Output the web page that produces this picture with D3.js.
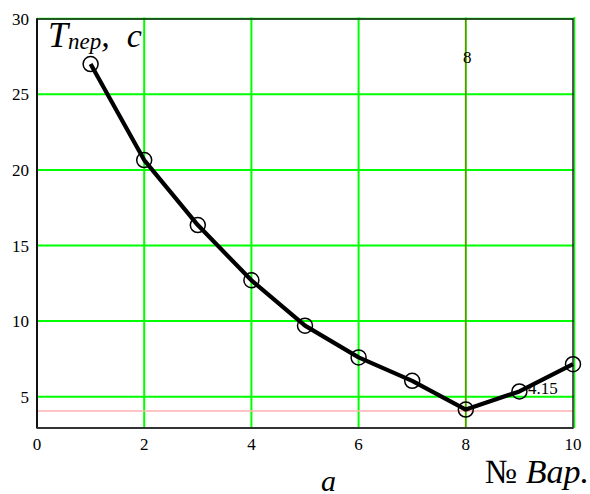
<!DOCTYPE html>
<html><head><meta charset="utf-8">
<script src="https://cdn.jsdelivr.net/npm/d3@7"></script>
<style>body{margin:0;background:#fff}svg{display:block}</style>
</head><body>
<script>
const variants = [1,2,3,4,5,6,7,8,9,10];
const periods = [27.0,20.65,16.35,12.7,9.7,7.6,6.05,4.15,5.35,7.15];
const xTicks = [0,2,4,6,8,10];
const yTicks = [5,10,15,20,25,30];
const markerX = 8;
const markerY = 4.15;
const markerYLabel = "4.15";
const markerXLabel = "8";

const W=590,H=494;
const svg=d3.select("body").append("svg").attr("width",W).attr("height",H);
const L=37,R=573,T=18.5;
const x=d3.scaleLinear().domain([0,10]).range([L,R]);
const y=d3.scaleLinear().domain([5,30]).range([396.7,18.7]);
const B=428;
const font="Liberation Serif, Times New Roman, serif";

const g=svg.append("g");
g.selectAll(".vg").data(xTicks.filter(d=>d>0&&d<10)).enter().append("line")
 .attr("x1",d=>x(d)).attr("x2",d=>x(d)).attr("y1",T-1).attr("y2",B)
 .attr("stroke","#00ff00").attr("stroke-width",2);
g.selectAll(".hg").data(yTicks).enter().append("line")
 .attr("x1",L).attr("x2",R+1.5).attr("y1",d=>y(d)).attr("y2",d=>y(d))
 .attr("stroke","#00ff00").attr("stroke-width",2);
g.append("line").attr("x1",R+1.5).attr("x2",R+1.5).attr("y1",T-1.5).attr("y2",B)
 .attr("stroke","#00ff00").attr("stroke-width",1.5);
g.append("line").attr("x1",L).attr("x2",R).attr("y1",y(markerY)+1.5).attr("y2",y(markerY)+1.5)
 .attr("stroke","#ffb0b0").attr("stroke-width",1.5);
g.append("line").attr("x1",x(markerX)).attr("x2",x(markerX)).attr("y1",T).attr("y2",B)
 .attr("stroke","#a05a00").attr("stroke-width",1);

svg.append("rect").attr("x",L).attr("y",T+0.5).attr("width",R-L).attr("height",B-T-0.5)
 .attr("fill","none").attr("stroke","#222").attr("stroke-width",1.5);
svg.append("line").attr("x1",L).attr("x2",L).attr("y1",T).attr("y2",B).attr("stroke","#111").attr("stroke-width",2);
svg.append("line").attr("x1",L).attr("x2",R).attr("y1",B).attr("y2",B).attr("stroke","#333").attr("stroke-width",2);

svg.selectAll(".xl").data(xTicks).enter().append("text")
 .attr("x",d=>x(d)).attr("y",450).attr("text-anchor","middle")
 .attr("font-family",font).attr("font-size",17).text(d=>d);
svg.selectAll(".yl").data(yTicks).enter().append("text")
 .attr("x",29).attr("y",d=>y(d)+6).attr("text-anchor","end")
 .attr("font-family",font).attr("font-size",17).text(d=>d);

const line=d3.line().x((d,i)=>x(variants[i])).y(d=>y(d));
svg.append("path").datum(periods).attr("d",line).attr("fill","none")
 .attr("stroke","#000").attr("stroke-width",4.2).attr("stroke-linejoin","round");
svg.selectAll(".pt").data(periods).enter().append("circle")
 .attr("cx",(d,i)=>x(variants[i])).attr("cy",d=>y(d)).attr("r",7.5)
 .attr("fill","none").attr("stroke","#000").attr("stroke-width",1.5);

svg.append("text").attr("x",528).attr("y",394).attr("font-family",font).attr("font-size",17).text(markerYLabel);
svg.append("text").attr("x",463).attr("y",63).attr("font-family",font).attr("font-size",17).text(markerXLabel);

const yt=svg.append("text").attr("x",48).attr("y",47).attr("font-family",font).attr("font-style","italic").attr("xml:space","preserve");
yt.append("tspan").attr("font-size",36).text("T");
yt.append("tspan").attr("font-size",23).attr("dy",2).text("пер");
yt.append("tspan").attr("font-size",34).attr("dy",-2).text(",  c");

const xt=svg.append("text").attr("x",589).attr("y",483).attr("text-anchor","end").attr("font-family",font).attr("font-size",34);
xt.append("tspan").text("№ ");
xt.append("tspan").attr("font-style","italic").text("Вар.");

svg.append("text").attr("x",321).attr("y",491).attr("font-family",font).attr("font-style","italic").attr("font-size",30).text("a");
</script>
</body></html>
